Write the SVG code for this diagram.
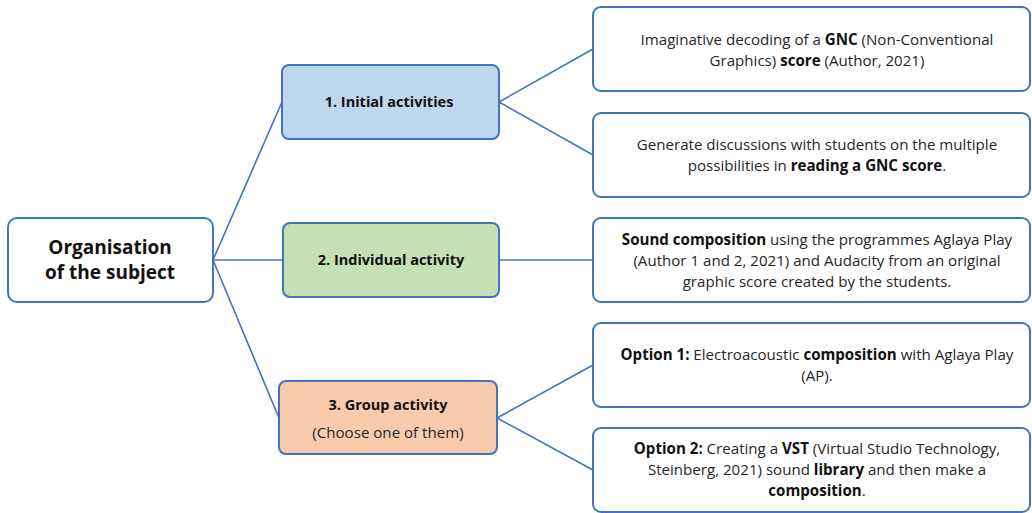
<svg xmlns="http://www.w3.org/2000/svg" width="1032" height="513" viewBox="0 0 1032 513">
<style>
.box{stroke:#4472c4;stroke-width:2;}
.w{fill:#ffffff;}
.t{font-family:"Open Sans","Liberation Sans",sans-serif;font-size:15.1px;fill:#262626;text-anchor:middle;}
.b{font-weight:bold;fill:#111;}
.m{font-size:14.5px;}
.conn line{stroke:#4472c4;stroke-width:1.6;}
</style>
<rect width="1032" height="513" fill="#ffffff"/>
<g id="connectors" class="conn">
<line x1="213" y1="260" x2="282" y2="102"/>
<line x1="213" y1="260" x2="283" y2="260"/>
<line x1="213" y1="260" x2="279" y2="418"/>
<line x1="499" y1="102" x2="593" y2="49"/>
<line x1="499" y1="102" x2="593" y2="155"/>
<line x1="499" y1="260" x2="593" y2="260"/>
<line x1="497" y1="418" x2="593" y2="365"/>
<line x1="497" y1="418" x2="593" y2="470"/>
</g>
<g id="root">
<rect class="box w" x="8" y="218" width="205" height="84" rx="9"/>
<text class="t b" x="110" y="254" style="font-size:19px">Organisation</text>
<text class="t b" x="110" y="279" style="font-size:19px">of the subject</text>
</g>
<g id="n1">
<rect class="box" fill="#bdd7ee" x="282" y="65" width="217" height="74" rx="7"/>
<text class="t b m" x="389" y="107">1. Initial activities</text>
</g>
<g id="n2">
<rect class="box" fill="#c5e0b4" x="283" y="223" width="216" height="74" rx="7"/>
<text class="t b m" x="391" y="265">2. Individual activity</text>
</g>
<g id="n3">
<rect class="box" fill="#f8cbad" x="279" y="381" width="218" height="73" rx="7"/>
<text class="t b m" x="388" y="410">3. Group activity</text>
<text class="t" x="388" y="438">(Choose one of them)</text>
</g>
<g id="a">
<rect class="box w" x="593" y="7" width="437" height="84" rx="8"/>
<text class="t" x="817" y="45">Imaginative decoding of a <tspan class="b">GNC</tspan> (Non-Conventional</text>
<text class="t" x="817" y="66">Graphics) <tspan class="b">score</tspan> (Author, 2021)</text>
</g>
<g id="b">
<rect class="box w" x="593" y="113" width="437" height="84" rx="8"/>
<text class="t" x="817" y="150">Generate discussions with students on the multiple</text>
<text class="t" x="817" y="171">possibilities in <tspan class="b">reading a GNC score</tspan>.</text>
</g>
<g id="c">
<rect class="box w" x="593" y="218" width="437" height="84" rx="8"/>
<text class="t" x="817" y="245"><tspan class="b">Sound composition</tspan> using the programmes Aglaya Play</text>
<text class="t" x="817" y="266">(Author 1 and 2, 2021) and Audacity from an original</text>
<text class="t" x="817" y="287">graphic score created by the students.</text>
</g>
<g id="d">
<rect class="box w" x="593" y="323" width="437" height="84" rx="8"/>
<text class="t" x="817" y="360"><tspan class="b">Option 1:</tspan> Electroacoustic <tspan class="b">composition</tspan> with Aglaya Play</text>
<text class="t" x="817" y="381">(AP).</text>
</g>
<g id="e">
<rect class="box w" x="593" y="428" width="437" height="84" rx="8"/>
<text class="t" x="817" y="454"><tspan class="b">Option 2:</tspan> Creating a <tspan class="b">VST</tspan> (Virtual Studio Technology,</text>
<text class="t" x="817" y="475">Steinberg, 2021) sound <tspan class="b">library</tspan> and then make a</text>
<text class="t" x="817" y="496"><tspan class="b">composition</tspan>.</text>
</g>
</svg>
